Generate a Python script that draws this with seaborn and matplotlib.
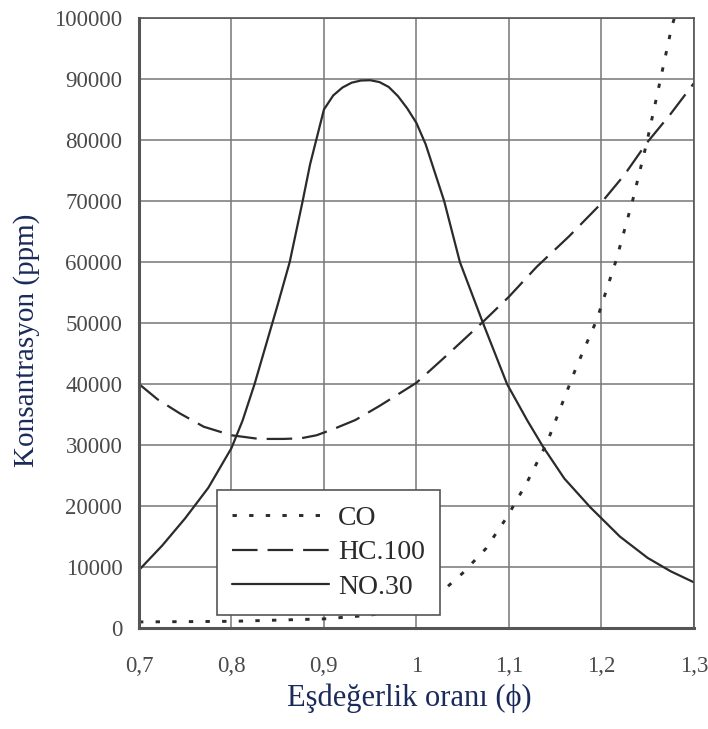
import matplotlib
matplotlib.use("Agg")
import matplotlib.pyplot as plt
import seaborn as sns
import pandas as pd

# Eşdeğerlik oranı (phi) vs konsantrasyon (ppm)
co_phi = [0.70, 0.80, 0.90, 0.95, 1.00, 1.033, 1.05, 1.075, 1.098, 1.12, 1.141, 1.173,
          1.195, 1.216, 1.234, 1.249, 1.263, 1.276, 1.279]
co_ppm = [1000, 1100, 1500, 2100, 3600, 6700, 9000, 13000, 18200, 24000, 30300, 42800,
          50500, 60300, 70200, 79500, 89300, 98500, 100000]

hc_phi = [0.70, 0.72, 0.744, 0.77, 0.80, 0.83, 0.856, 0.875, 0.892, 0.91, 0.934, 0.96,
          1.00, 1.035, 1.072, 1.10, 1.13, 1.165, 1.196, 1.225, 1.249, 1.275, 1.30]
hc_ppm = [40000, 37500, 35200, 33000, 31600, 31000, 31000, 31100, 31600, 32600, 34100, 36400,
          40200, 45000, 50200, 54300, 59200, 64200, 69000, 74300, 79500, 84300, 89300]

no_phi = [0.70, 0.725, 0.75, 0.775, 0.80, 0.812, 0.825, 0.85, 0.863, 0.877, 0.885, 0.895,
          0.90, 0.91, 0.92, 0.93, 0.94, 0.95, 0.96, 0.97, 0.98, 0.99, 1.00, 1.01,
          1.03, 1.047, 1.072, 1.098, 1.12, 1.137, 1.16, 1.188, 1.22, 1.25, 1.275, 1.30]
no_ppm = [9500, 13500, 18000, 23000, 29500, 34000, 40000, 53000, 60000, 70000, 76000, 82000,
          85000, 87300, 88600, 89400, 89750, 89800, 89500, 88700, 87200, 85200, 82800, 79300,
          70000, 60000, 50000, 40000, 34000, 29700, 24500, 19800, 15000, 11500, 9300, 7500]

series_names = ["CO", "HC.100", "NO.30"]
x_ticks = [0.7, 0.8, 0.9, 1.0, 1.1, 1.2, 1.3]
x_tick_labels = ["0,7", "0,8", "0,9", "1", "1,1", "1,2", "1,3"]
y_ticks = list(range(0, 100001, 10000))

sns.set_style("white")
plt.rcParams['font.family'] = ['Liberation Serif', 'DejaVu Serif']

fig = plt.figure(figsize=(7.08, 7.29), dpi=100)
ax = fig.add_axes([0.1963, 0.1385, 0.7837, 0.8368])

line_col = "#2b2b2b"
widths = {"CO": 2.1, "HC.100": 1.6, "NO.30": 1.6}
styles = {"CO": (0, (1.5, 4.2)), "HC.100": (0, (11.5, 4.5)), "NO.30": "-"}
data = {"CO": (co_phi, co_ppm), "HC.100": (hc_phi, hc_ppm), "NO.30": (no_phi, no_ppm)}

for name in series_names:
    xs, ys = data[name]
    df = pd.DataFrame({"phi": xs, "ppm": ys})
    sns.lineplot(data=df, x="phi", y="ppm", ax=ax, color=line_col, linewidth=widths[name],
                 linestyle=styles[name], estimator=None, sort=False, label=name)

ax.set_xlim(0.7, 1.3)
ax.set_ylim(0, 100000)
ax.set_xticks(x_ticks)
ax.set_xticklabels(x_tick_labels)
ax.set_yticks(y_ticks)
ax.set_yticklabels([str(v) for v in y_ticks])
ax.grid(True, color="#777777", linewidth=1.1)
ax.set_axisbelow(True)
for sp in ax.spines.values():
    sp.set_color("#555555")
    sp.set_linewidth(1.2)
ax.spines["left"].set_linewidth(2.2)
ax.spines["bottom"].set_linewidth(2.2)
ax.tick_params(axis="both", labelsize=16.5, length=0)
ax.tick_params(axis="x", pad=20)
ax.tick_params(axis="y", pad=12)
for t in ax.get_xticklabels() + ax.get_yticklabels():
    t.set_color("#4a4a4a")

ax.set_xlabel("Eşdeğerlik oranı (ϕ)", fontsize=22, color="#1a2a5a", va="center")
ax.set_ylabel("Konsantrasyon (ppm)", fontsize=21, color="#1a2a5a", va="center")
ax.xaxis.set_label_coords(0.488, -0.115)
ax.yaxis.set_label_coords(-0.202, 0.472)

leg = ax.legend(loc="lower left", bbox_to_anchor=(0.1405, 0.0213), fontsize=20,
                frameon=True, fancybox=False, handlelength=3.5, handletextpad=0.3,
                borderpad=0.55, labelspacing=0.32, borderaxespad=0)
leg.get_frame().set_edgecolor("#555555")
leg.get_frame().set_linewidth(1.2)
leg.get_frame().set_facecolor("white")
leg.get_frame().set_alpha(1)
for t in leg.get_texts():
    t.set_color("#2b2b2b")

fig.savefig("out.png", dpi=100, facecolor="white")
